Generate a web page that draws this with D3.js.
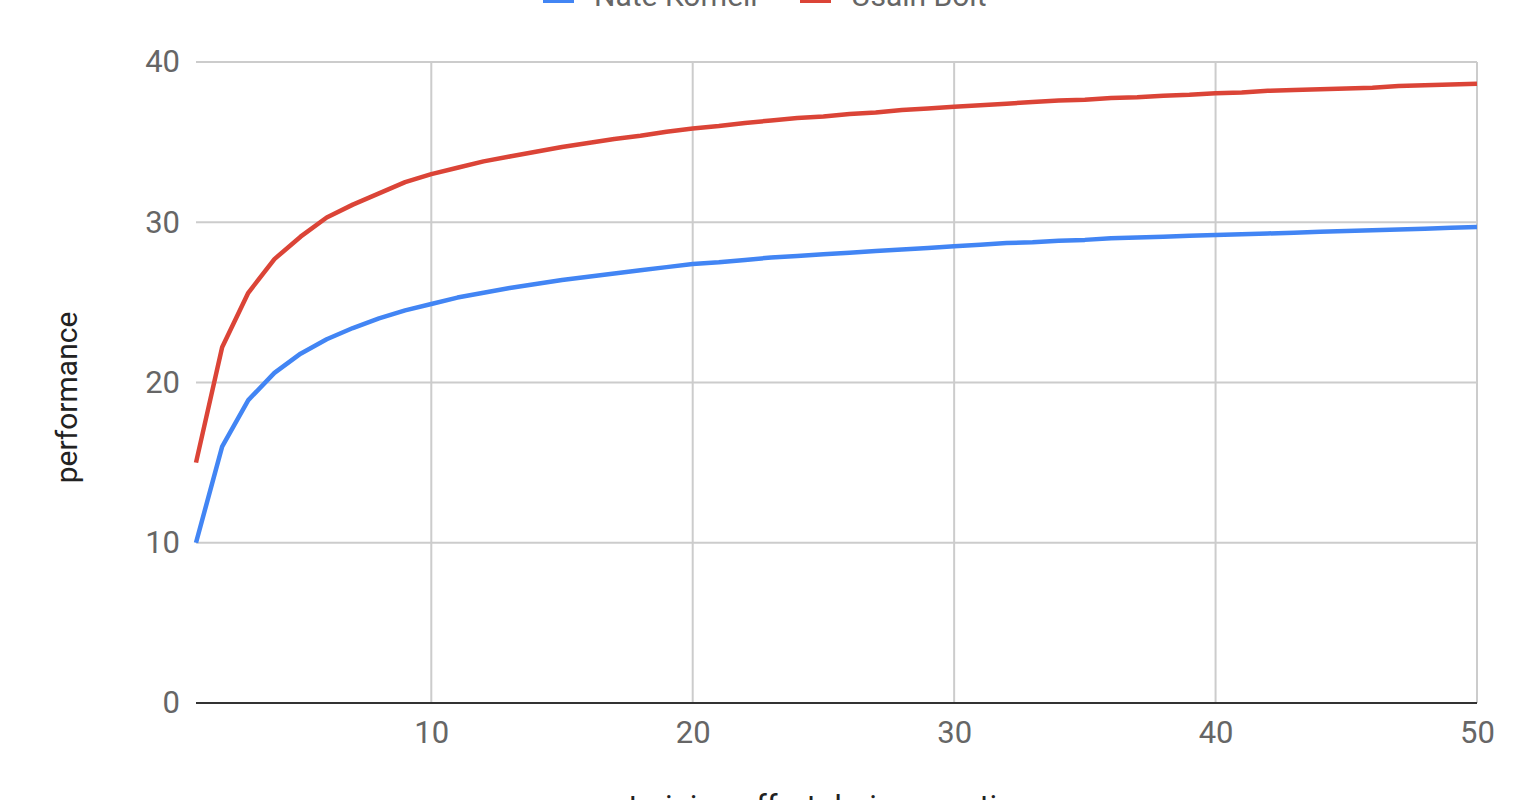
<!DOCTYPE html>
<html>
<head>
<meta charset="utf-8">
<script src="https://cdn.jsdelivr.net/npm/d3@7"></script>
<style>
  html, body { margin: 0; padding: 0; background: #fff; overflow: hidden; }
  svg { display: block; }
  text { font-family: Roboto, "Noto Sans", sans-serif; }
</style>
</head>
<body>
<svg id="chart" width="1528" height="800"></svg>
<script>
// ---- data ----
const xValues = d3.range(1, 51);
const nateKornell = [10.0, 16.0, 18.9, 20.6, 21.8, 22.7, 23.4, 24.0, 24.5, 24.9,
  25.3, 25.6, 25.9, 26.15, 26.4, 26.6, 26.8, 27.0, 27.2, 27.4,
  27.5, 27.65, 27.8, 27.9, 28.0, 28.1, 28.2, 28.3, 28.4, 28.5,
  28.6, 28.7, 28.75, 28.85, 28.9, 29.0, 29.05, 29.1, 29.15, 29.2,
  29.25, 29.3, 29.35, 29.4, 29.45, 29.5, 29.55, 29.6, 29.65, 29.7];
const usainBolt = [15.0, 22.2, 25.6, 27.7, 29.1, 30.3, 31.1, 31.8, 32.5, 33.0,
  33.4, 33.8, 34.1, 34.4, 34.7, 34.95, 35.2, 35.4, 35.65, 35.85,
  36.0, 36.2, 36.35, 36.5, 36.6, 36.75, 36.85, 37.0, 37.1, 37.2,
  37.3, 37.4, 37.5, 37.6, 37.65, 37.75, 37.8, 37.9, 37.95, 38.05,
  38.1, 38.2, 38.25, 38.3, 38.35, 38.4, 38.5, 38.55, 38.6, 38.65];
const seriesNames = ["Nate Kornell", "Usain Bolt"];
const seriesColors = ["#4285F4", "#DB4437"];
const xTicks = [10, 20, 30, 40, 50];
const yTicks = [0, 10, 20, 30, 40];
const xTitle = "training effort during practice";
const yTitle = "performance";

// ---- layout ----
const svg = d3.select("#chart");
const plotLeft = 196, plotRight = 1477, plotTop = 62, plotBottom = 703;

const x = d3.scaleLinear().domain([1, 50]).range([plotLeft, plotRight]);
const y = d3.scaleLinear().domain([0, 40]).range([plotBottom, plotTop]);

// gridlines
svg.append("g").selectAll("line")
  .data(yTicks.filter(d => d !== 0))
  .join("line")
  .attr("x1", plotLeft).attr("x2", plotRight)
  .attr("y1", d => y(d)).attr("y2", d => y(d))
  .attr("stroke", "#cccccc").attr("stroke-width", 2);

svg.append("g").selectAll("line")
  .data(xTicks)
  .join("line")
  .attr("x1", d => x(d)).attr("x2", d => x(d))
  .attr("y1", plotTop).attr("y2", plotBottom)
  .attr("stroke", "#cccccc").attr("stroke-width", 2);

// y axis labels
const yAxis = d3.axisLeft(y).tickValues(yTicks).tickSize(0).tickPadding(16);
const gy = svg.append("g").attr("transform", `translate(${plotLeft},0)`).call(yAxis);
gy.select(".domain").remove();
gy.selectAll("text").attr("font-size", 31).attr("fill", "#666666")
  .attr("font-family", "Roboto, sans-serif");

// x axis labels
const xAxis = d3.axisBottom(x).tickValues(xTicks).tickSize(0).tickPadding(18);
const gx = svg.append("g").attr("transform", `translate(0,${plotBottom})`).call(xAxis);
gx.select(".domain").remove();
gx.selectAll("text").attr("font-size", 31).attr("fill", "#666666")
  .attr("font-family", "Roboto, sans-serif");

// baseline
svg.append("line")
  .attr("x1", plotLeft).attr("x2", plotRight)
  .attr("y1", y(0)).attr("y2", y(0))
  .attr("stroke", "#333333").attr("stroke-width", 2);

// lines
const series = [nateKornell, usainBolt];
const line = d3.line().x((d, i) => x(xValues[i])).y(d => y(d));
series.forEach((vals, si) => {
  svg.append("path")
    .datum(vals)
    .attr("d", line)
    .attr("fill", "none")
    .attr("stroke", seriesColors[si])
    .attr("stroke-width", 4.5)
    .attr("stroke-linejoin", "round");
});

// legend (cut off at top)
const legendX = [543, 800];
const lg = svg.append("g");
seriesNames.forEach((name, i) => {
  lg.append("rect")
    .attr("x", legendX[i]).attr("y", -12)
    .attr("width", 31).attr("height", 15)
    .attr("fill", seriesColors[i]);
  lg.append("text")
    .attr("x", legendX[i] + 51).attr("y", 6)
    .attr("font-size", 30).attr("fill", "#666666")
    .text(name);
});

// axis titles
svg.append("text")
  .attr("transform", `translate(77,${(plotTop + plotBottom) / 2 + 15}) rotate(-90)`)
  .attr("text-anchor", "middle")
  .attr("font-size", 30).attr("fill", "#222222")
  .text(yTitle);

svg.append("text")
  .attr("x", 829).attr("y", 817)
  .attr("text-anchor", "middle")
  .attr("font-size", 31).attr("fill", "#222222")
  .text(xTitle);
</script>
</body>
</html>
